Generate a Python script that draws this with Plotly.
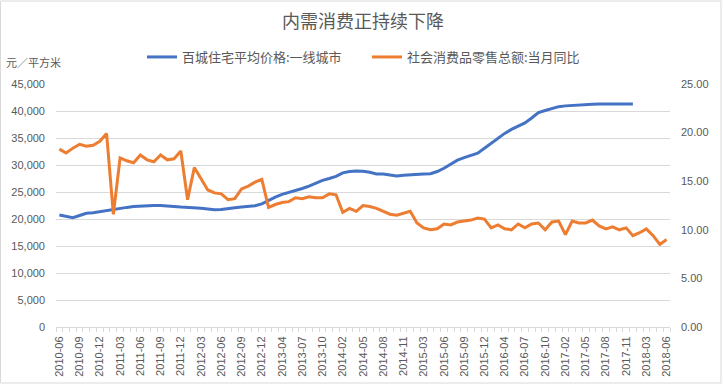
import plotly.graph_objects as go

# ---- data ----
months = (
    [f"2010-{m:02d}" for m in range(6, 13)]
    + [f"2011-{m:02d}" for m in range(1, 13)]
    + [f"2012-{m:02d}" for m in range(1, 13)]
    + [f"{y}-{m:02d}" for y in range(2013, 2018) for m in range(2, 13)]
    + [f"2018-{m:02d}" for m in range(2, 7)]
)

house_price = [
    20740, 20450, 20260, 20650, 21050, 21150, 21360,
    21650, 21850, 21980, 22150, 22300, 22400, 22450, 22480, 22480, 22450, 22300, 22200,
    22150, 22050, 22000, 21850, 21700, 21750, 21950, 22100, 22200, 22280, 22450, 22800,
    23450, 24050, 24550, 24900, 25300, 25650, 26100, 26650, 27150, 27500, 27900,
    28550, 28800, 28900, 28850, 28650, 28350, 28330, 28150, 27960, 28080, 28200,
    28330, 28330, 28400, 28800, 29400, 30200, 30900, 31350, 31750, 32200, 33100,
    34000, 35000, 35850, 36600, 37200, 37800, 38700, 39700, 40100, 40500, 40800,
    40950, 41050, 41120, 41120, 41240, 41300, 41300, 41300, 41300, 41300, 41300,
    None, None, None, None, None,
]

retail_yoy = [
    18.3, 17.9, 18.4, 18.8, 18.6, 18.7, 19.1,
    19.9, 11.6, 17.4, 17.1, 16.9, 17.7, 17.2, 17.0, 17.7, 17.2, 17.3, 18.1,
    13.1, 16.4, 15.2, 14.1, 13.8, 13.7, 13.1, 13.2, 14.2, 14.5, 14.9, 15.2,
    12.3, 12.6, 12.8, 12.9, 13.3, 13.2, 13.4, 13.3, 13.3, 13.7, 13.6,
    11.8, 12.2, 11.9, 12.5, 12.4, 12.2, 11.9, 11.6, 11.5, 11.7, 11.9,
    10.7, 10.2, 10.0, 10.1, 10.6, 10.5, 10.8, 10.9, 11.0, 11.2, 11.1,
    10.2, 10.5, 10.1, 10.0, 10.6, 10.2, 10.6, 10.7, 10.0, 10.8, 10.9,
    9.5, 10.9, 10.7, 10.7, 11.0, 10.4, 10.1, 10.3, 10.0, 10.2, 9.4,
    9.7, 10.1, 9.4, 8.5, 9.0,
]

left_ticks = list(range(0, 45001, 5000))
right_ticks = [0, 5, 10, 15, 20, 25]

title_text = "内需消费正持续下降"
name_price = "百城住宅平均价格:一线城市"
name_retail = "社会消费品零售总额:当月同比"
unit_text = "元／平方米"

# ---- figure ----
idx = list(range(len(months)))
tick_idx = idx[::3]
tick_lab = months[::3]

W, H = 724, 386
L, R, T, B = 56, 54, 84, 59
pw, ph = W - L - R, H - T - B

fig = go.Figure()
fig.add_trace(go.Scatter(
    x=idx, y=house_price, name=name_price, mode="lines",
    line=dict(color="#4472C4", width=3), yaxis="y",
))
fig.add_trace(go.Scatter(
    x=idx, y=retail_yoy, name=name_retail, mode="lines",
    line=dict(color="#ED7D31", width=3), yaxis="y2",
))

gray = "#595959"
font_num = "Liberation Sans, Arial, sans-serif"
font_cjk = "Noto Sans CJK SC, sans-serif"

fig.update_layout(
    width=W, height=H,
    margin=dict(l=L, r=R, t=T, b=B, autoexpand=False),
    paper_bgcolor="white", plot_bgcolor="white",
    title=dict(text=title_text, x=0.5, xanchor="center", xref="paper",
               y=1 - 22 / H, yanchor="middle", yref="container",
               font=dict(family=font_cjk, size=18, color=gray)),
    showlegend=True,
    legend=dict(orientation="h", x=(142 - L) / pw, xanchor="left",
                y=1 + (T - 57) / ph, yanchor="middle",
                font=dict(family=font_cjk, size=13, color=gray),
                bgcolor="rgba(0,0,0,0)", itemwidth=30,
                entrywidth=180, entrywidthmode="pixels"),
    xaxis=dict(
        automargin=False,
        range=[-0.5, len(months) - 0.5], tickmode="array",
        tickvals=tick_idx, ticktext=tick_lab, tickangle=-90,
        tickfont=dict(family=font_num, size=11, color=gray),
        showgrid=False, zeroline=False, showline=True, linecolor="#D9D9D9",
        linewidth=1, ticks="", ticklabelstandoff=4,
        minor=dict(ticks="outside", tick0=-0.5, dtick=1, ticklen=4,
                   tickcolor="#D9D9D9", showgrid=False),
    ),
    yaxis=dict(
        automargin=False,
        range=[0, 45000], tickmode="array", tickvals=left_ticks,
        ticktext=[f"{v:,}" for v in left_ticks],
        tickfont=dict(family=font_num, size=11, color=gray),
        showgrid=True, gridcolor="#D9D9D9", gridwidth=1,
        zeroline=False, showline=False, ticks="", ticklabelstandoff=10,
    ),
    yaxis2=dict(
        automargin=False,
        range=[0, 25], overlaying="y", side="right", tickmode="array",
        tickvals=right_ticks, ticktext=[f"{v:.2f}" for v in right_ticks],
        tickfont=dict(family=font_num, size=11, color=gray),
        showgrid=False, zeroline=False, showline=False, ticks="",
        ticklabelstandoff=10,
    ),
    annotations=[dict(
        text=unit_text, xref="paper", yref="paper",
        x=(4 - L) / pw, y=(H - B - 62) / ph, xanchor="left", yanchor="middle",
        showarrow=False, font=dict(family=font_cjk, size=11, color=gray),
    )],
    shapes=[dict(
        type="rect", xref="paper", yref="paper",
        x0=(0.5 - L) / pw, x1=(721 - L) / pw,
        y0=(H - B - 383) / ph, y1=(H - B - 1) / ph,
        line=dict(color="#D9D9D9", width=1), fillcolor="rgba(0,0,0,0)",
        layer="below",
    )],
)

fig.write_html(
    "out.html",
    config={"displayModeBar": False},
    post_script="document.body.style.margin='0';document.body.style.padding='0';",
)
